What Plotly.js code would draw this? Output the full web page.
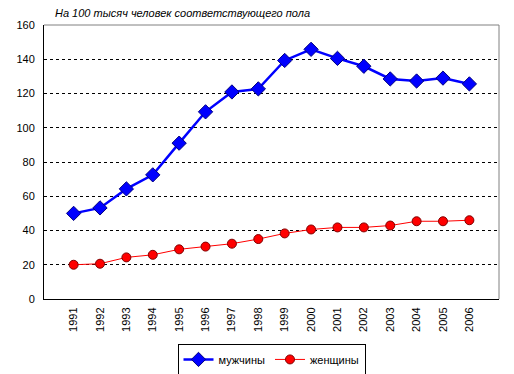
<!DOCTYPE html>
<html>
<head>
<meta charset="utf-8">
<script src="https://cdn.plot.ly/plotly-3.0.1.min.js"></script>
<style>
html,body{margin:0;padding:0;background:#fff;}
#chart{width:514px;height:374px;}
</style>
</head>
<body>
<div id="chart"></div>
<script>
const years = ["1991","1992","1993","1994","1995","1996","1997","1998","1999","2000","2001","2002","2003","2004","2005","2006"];
const men = [50, 53.2, 64.3, 72.5, 91, 109.3, 120.9, 122.7, 139.3, 145.8, 140.5, 135.9, 128.5, 127.3, 129, 125.6];
const women = [20, 20.6, 24.3, 25.8, 29, 30.6, 32.3, 35, 38.3, 40.6, 41.8, 41.8, 42.9, 45.4, 45.4, 46];
const seriesNames = ["мужчины", "женщины"];
const chartTitle = "На 100 тысяч человек соответствующего пола";

const font = {family: "Liberation Sans, Arial, sans-serif", size: 11, color: "#000"};

const data = [
  {x: years, y: men, name: seriesNames[0], type: "scatter", mode: "lines+markers",
   line: {color: "#0000ff", width: 2.5},
   marker: {symbol: "diamond", size: 11, color: "#0000ff", line: {color: "#000080", width: 1}}},
  {x: years, y: women, name: seriesNames[1], type: "scatter", mode: "lines+markers",
   line: {color: "#ff0000", width: 1},
   marker: {symbol: "circle", size: 9, color: "#ff0000", line: {color: "#800000", width: 1}}}
];

const layout = {
  width: 514, height: 374,
  margin: {l: 44, r: 15, t: 25, b: 75, pad: 0, autoexpand: false},
  paper_bgcolor: "#fff", plot_bgcolor: "#fff",
  font: font,
  showlegend: true,
  annotations: [{text: "<i>" + chartTitle + "</i>", xref: "paper", yref: "paper",
    x: (53 - 44) / 455, y: 1, yshift: 4, xanchor: "left", yanchor: "bottom",
    showarrow: false, font: {family: "Liberation Sans, Arial, sans-serif", size: 11, color: "#000"}}],
  xaxis: {type: "category", showgrid: false, zeroline: false, showline: true,
    linecolor: "#000", linewidth: 1, ticks: "", tickangle: -90,
    tickfont: font, automargin: false, ticklabelstandoff: 3},
  yaxis: {range: [0, 160], tickvals: [0,20,40,60,80,100,120,140,160],
    showgrid: true, gridcolor: "#000", griddash: "3px,3px", gridwidth: 1,
    zeroline: false, showline: true, linecolor: "#000", linewidth: 1,
    ticks: "", tickfont: font, automargin: false, ticklabelstandoff: 6},
  shapes: [
    {type: "line", xref: "paper", yref: "paper", x0: 0, x1: 1, y0: 1, y1: 1, line: {color: "#808080", width: 1}, layer: "above"},
    {type: "line", xref: "paper", yref: "paper", x0: 1, x1: 1, y0: 0, y1: 1, line: {color: "#808080", width: 1}, layer: "above"}
  ],
  legend: {orientation: "h", x: 0.5, xanchor: "center", y: -0.164, yanchor: "top",
    bordercolor: "#000", borderwidth: 1, bgcolor: "#fff", font: font,
    itemwidth: 30, tracegroupgap: 0, itemsizing: "trace"}
};

Plotly.newPlot("chart", data, layout, {displayModeBar: false, staticPlot: true});
</script>
</body>
</html>
